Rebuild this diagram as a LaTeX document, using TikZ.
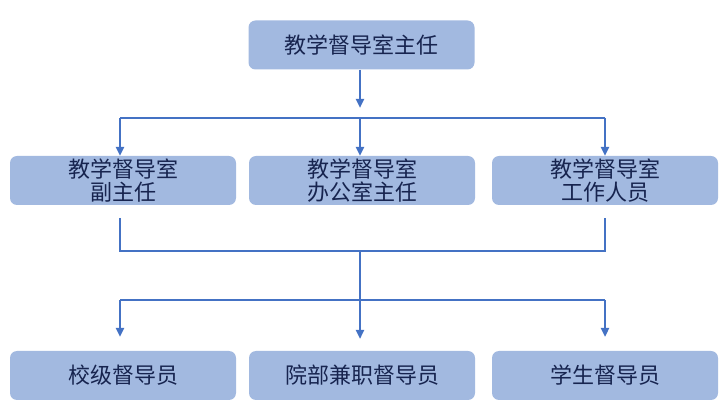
\documentclass[tikz,border=0pt]{standalone}
\usepackage{fontspec}
\setmainfont{Noto Sans CJK SC}
\usetikzlibrary{arrows.meta}
\definecolor{boxfill}{HTML}{A2B9E0}
\definecolor{boxtext}{HTML}{17244F}
\definecolor{linecol}{HTML}{4472C4}
\tikzset{
  orgbox/.style={fill=boxfill, rounded corners=7pt, minimum width=226pt, minimum height=49pt,
     inner sep=0pt, align=center, text=boxtext, font=\fontsize{22}{23}\selectfont},
  conn/.style={draw=linecol, line width=2.8pt},
  arr/.style={conn, -{Triangle[width=8pt,length=9pt]}}
}
\begin{document}
\begin{tikzpicture}[x=1pt,y=-1pt]
\useasboundingbox (0,0) rectangle (726,411);
\node[orgbox] (top) at (361.5,45) {教学督导室主任};
\node[orgbox] (m1) at (123,180.5) {教学督导室\\副主任};
\node[orgbox] (m2) at (362,180.5) {教学督导室\\办公室主任};
\node[orgbox] (m3) at (605,180.5) {教学督导室\\工作人员};
\node[orgbox] (b1) at (123,375.5) {校级督导员};
\node[orgbox] (b2) at (362,375.5) {院部兼职督导员};
\node[orgbox] (b3) at (605,375.5) {学生督导员};
% top junction
\coordinate (t1) at (120,118);
\coordinate (t2) at (360,118);
\coordinate (t3) at (605,118);
\coordinate (ta) at (360,108);
\draw[arr] (top.south -| ta) -- (ta);
\draw[conn] (t1) -- (t3);
\draw[arr] (t1) -- (t1 |- m1.north);
\draw[arr] (t2) -- (t2 |- m2.north);
\draw[arr] (t3) -- (t3 |- m3.north);
% middle collector
\coordinate (c1) at (120,218);
\coordinate (c3) at (605,218);
\coordinate (c1b) at (120,251);
\coordinate (c3b) at (605,251);
\coordinate (c2) at (360,251);
\draw[conn, line join=miter] (c1) -- (c1b) -- (c3b) -- (c3);
% bottom distribution
\coordinate (d1) at (120,300);
\coordinate (d3) at (605,300);
\coordinate (e1) at (120,337);
\coordinate (e2) at (360,339);
\coordinate (e3) at (605,337);
\draw[arr] (c2) -- (e2);
\draw[conn] (d1) -- (d3);
\draw[arr] (d1) -- (e1);
\draw[arr] (d3) -- (e3);
\end{tikzpicture}
\end{document}
